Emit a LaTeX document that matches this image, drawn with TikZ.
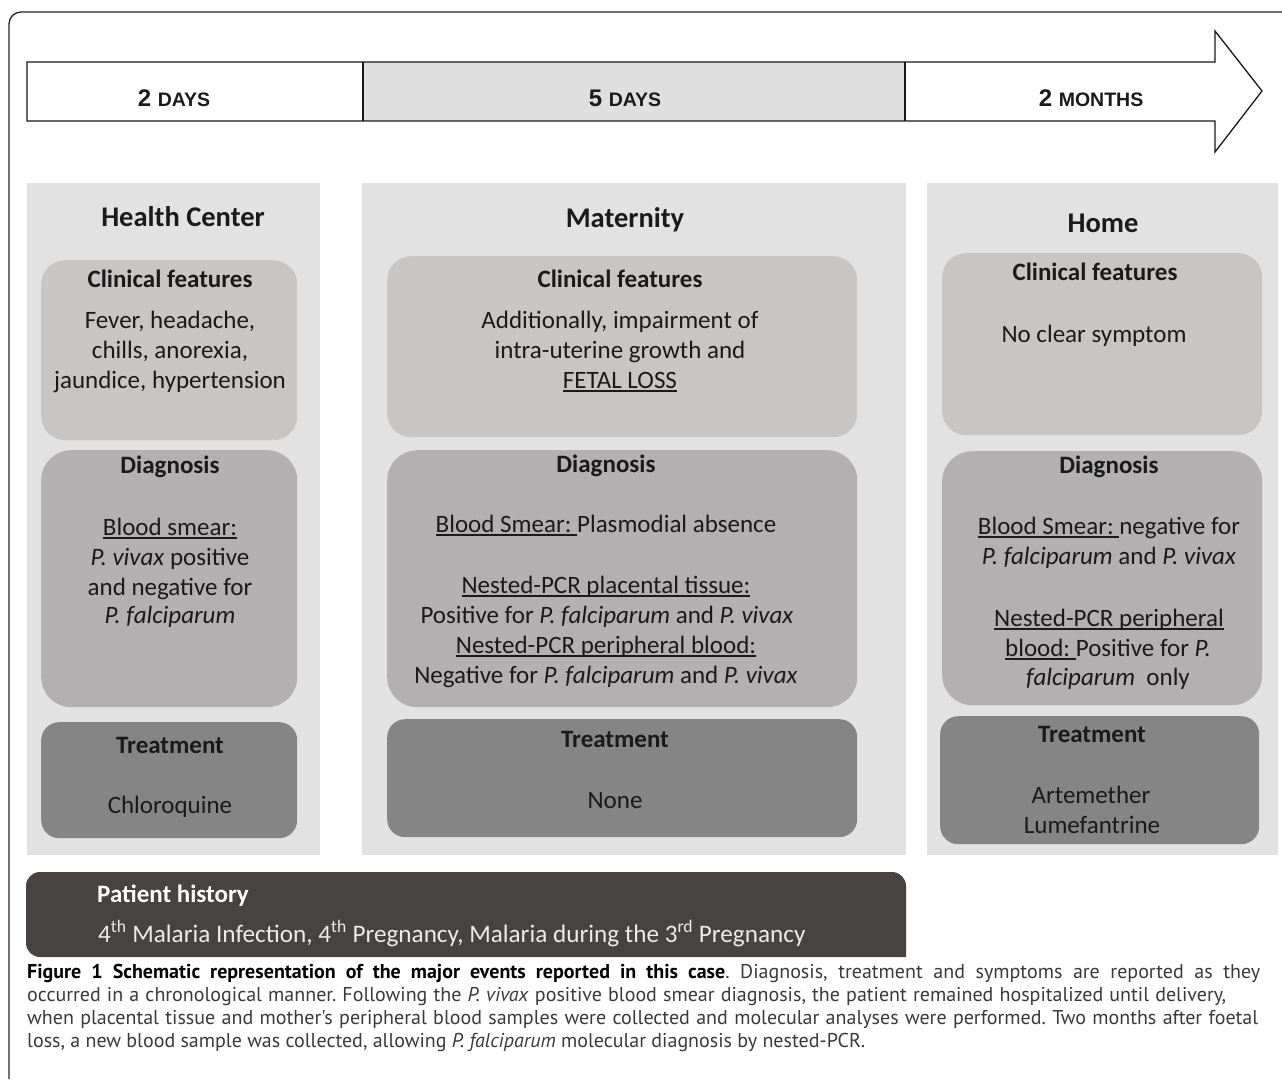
\documentclass[tikz,border=0pt]{standalone}
\usepackage{fontspec}
\setmainfont{Carlito}
\newfontfamily\arialf{Liberation Sans}
\newfontfamily\capfont{PT Sans}
\definecolor{panelbg}{HTML}{E2E2E2}
\definecolor{cfgray}{HTML}{C8C6C5}
\definecolor{dggray}{HTML}{B2B0B0}
\definecolor{trgray}{HTML}{868585}
\definecolor{histgray}{HTML}{474342}
\definecolor{bargray}{HTML}{DFDFDF}
\definecolor{ink}{HTML}{1A1A1A}
\definecolor{capink}{HTML}{3A3A3A}
\frenchspacing
\newcommand\uln[1]{\setbox0\hbox{#1}\rlap{\rule[-3.5pt]{\wd0}{1.3pt}}\box0}
\newcommand\txtline[5][]{\node[tline,#1] (#2) at (#3,#4) {#5};}
\newcommand\boxat[7]{\node[#2, minimum width=#5pt, minimum height=#6pt] (#1) at (#3,#4) {#7};}
\tikzset{
  tline/.style={anchor=base, inner sep=0pt, text=ink, font=\fontsize{25}{30}\selectfont},
  ttl/.style={font=\bfseries\fontsize{28.5}{34}\selectfont},
  hd/.style={font=\bfseries\fontsize{25}{30}\selectfont},
  panelbox/.style={anchor=north west, inner sep=0pt, fill=panelbg, draw=none},
  cfbox/.style={anchor=north west, inner sep=0pt, fill=cfgray, rounded corners=24pt},
  dgbox/.style={anchor=north west, inner sep=0pt, fill=dggray, rounded corners=30pt},
  trbox/.style={anchor=north west, inner sep=0pt, fill=trgray, rounded corners=18pt},
  daylabel/.style={anchor=base, inner sep=0pt, text=ink},
  capline/.style={anchor=base west, inner sep=0pt, text=capink, font=\capfont\fontsize{20}{23}\selectfont},
}
\newcommand\bignum[1]{{\arialf\bfseries\fontsize{24}{24}\selectfont #1\ }}
\newcommand\smallcap[1]{{\arialf\bfseries\fontsize{19.5}{24}\selectfont #1}}
\begin{document}
\begin{tikzpicture}[x=1pt,y=-1pt]
\useasboundingbox (0,0) rectangle (1282,1079);
\fill[white] (0,0) rectangle (1282,1079);
% outer frame
\draw[line width=1.3pt, black!85, rounded corners=12pt] (9,1079) -- (9,12) -- (1282,12);
% timeline arrow
\fill[white] (27,62) -- (1215,62) -- (1215,31) -- (1262,91) -- (1215,152) -- (1215,121) -- (27,121) -- cycle;
\fill[bargray] (363,62) rectangle (905,121);
\draw[line width=1.3pt, black!90, line join=miter] (27,62) -- (1215,62) -- (1215,31) -- (1262,91) -- (1215,152) -- (1215,121) -- (27,121) -- cycle;
\draw[line width=1.3pt, black!90] (363,62) -- (363,121);
\draw[line width=1.3pt, black!90] (905,62) -- (905,121);
\node[daylabel] (d1) at (174,106) {\bignum{2}\smallcap{DAYS}};
\node[daylabel] (d2) at (625,106) {\bignum{5}\smallcap{DAYS}};
\node[daylabel] (d3) at (1091,106) {\bignum{2}\smallcap{MONTHS}};
% panels
\boxat{p1}{panelbox}{27}{183}{293}{672}{}
\boxat{p2}{panelbox}{362}{183}{544}{672}{}
\boxat{p3}{panelbox}{927}{183}{351}{672}{}
% panel 1 boxes
\boxat{cf1}{cfbox}{41}{260}{256}{180}{}
\boxat{dg1}{dgbox}{41}{450}{256}{257}{}
\boxat{tr1}{trbox}{41}{722}{256}{116}{}
% panel 2 boxes
\boxat{cf2}{cfbox}{387}{256}{470}{181}{}
\boxat{dg2}{dgbox}{387}{450}{470}{257}{}
\boxat{tr2}{trbox}{387}{719}{470}{118}{}
% panel 3 boxes
\boxat{cf3}{cfbox}{942}{253}{320}{182}{}
\boxat{dg3}{dgbox}{942}{451}{320}{254}{}
\boxat{tr3}{trbox}{940}{716}{319}{128}{}
% panel 1 text
\txtline[ttl]{h1}{183}{226}{Health Center}
\txtline[hd]{cft1}{170}{287}{Clinical features}
\txtline{cfa1}{170}{328}{Fever, headache,}
\txtline{cfb1}{170}{358}{chills, anorexia,}
\txtline{cfc1}{170}{388}{jaundice, hypertension}
\txtline[hd]{dgt1}{170}{473}{Diagnosis}
\txtline{dga1}{170}{535}{\uln{Blood smear:}}
\txtline{dgb1}{170}{565}{\textit{P. vivax} positive}
\txtline{dgc1}{170}{595}{and negative for}
\txtline{dgd1}{170}{623}{\textit{P. falciparum}}
\txtline[hd]{trt1}{170}{753}{Treatment}
\txtline{tra1}{170}{813}{Chloroquine}
% panel 2 text
\txtline[ttl]{h2}{625}{227}{Maternity}
\txtline[hd]{cft2}{620}{287}{Clinical features}
\txtline{cfa2}{620}{328}{Additionally, impairment of}
\txtline{cfb2}{620}{358}{intra-uterine growth and}
\txtline{cfc2}{620}{388}{\uln{FETAL LOSS}}
\txtline[hd]{dgt2}{606}{472}{Diagnosis}
\txtline{dga2}{606}{532}{\uln{Blood Smear:\ }Plasmodial absence}
\txtline{dgb2}{606}{593}{\uln{Nested-PCR placental tissue:}}
\txtline{dgc2}{607}{623}{Positive for \textit{P. falciparum} and \textit{P. vivax}}
\txtline{dgd2}{606}{653}{\uln{Nested-PCR peripheral blood:}}
\txtline{dge2}{606}{683}{Negative for \textit{P. falciparum} and \textit{P. vivax}}
\txtline[hd]{trt2}{615}{747}{Treatment}
\txtline{tra2}{615}{808}{None}
% panel 3 text
\txtline[ttl]{h3}{1103}{232}{Home}
\txtline[hd]{cft3}{1095}{280}{Clinical features}
\txtline{cfa3}{1094}{342}{No clear symptom}
\txtline[hd]{dgt3}{1109}{473}{Diagnosis}
\txtline{dga3}{1109}{534}{\uln{Blood Smear:\ }negative for}
\txtline{dgb3}{1109}{564}{\textit{P. falciparum} and \textit{P. vivax}}
\txtline{dgc3}{1109}{626}{\uln{Nested-PCR peripheral}}
\txtline{dgd3}{1108}{656}{\uln{blood:\ }Positive for \textit{P.}}
\txtline{dge3}{1108}{685}{\textit{falciparum}\ \ only}
\txtline[hd]{trt3}{1092}{742}{Treatment}
\txtline{tra3}{1091}{803}{Artemether}
\txtline{trb3}{1092}{833}{Lumefantrine}
% patient history
\fill[histgray, rounded corners=14pt] (906,957) -- (906,872) -- (26,872) -- (26,957) [sharp corners] -- cycle;
\node[anchor=base west, inner sep=0pt, text=white, font=\bfseries\fontsize{25}{30}\selectfont] (ph) at (97,902) {Patient history};
\node[anchor=base west, inner sep=0pt, text=white!92!black, font=\fontsize{25.2}{30}\selectfont] (phl) at (98,942) {4\textsuperscript{th} Malaria Infection, 4\textsuperscript{th} Pregnancy, Malaria during the 3\textsuperscript{rd} Pregnancy};
% caption
\node[capline] (c1) at (27,978) {\makebox[1233pt][s]{\textcolor{black}{\bfseries Figure 1 Schematic representation of the major events reported in this case}. Diagnosis, treatment and symptoms are reported as they}};
\node[capline] (c2) at (27,1001) {\makebox[1199pt][s]{occurred in a chronological manner. Following the \textit{P. vivax} positive blood smear diagnosis, the patient remained hospitalized until delivery,}};
\node[capline] (c3) at (27,1024) {\makebox[1231pt][s]{when placental tissue and mother's peripheral blood samples were collected and molecular analyses were performed. Two months after foetal}};
\node[capline] (c4) at (27,1047) {\makebox[838pt][s]{loss, a new blood sample was collected, allowing \textit{P. falciparum} molecular diagnosis by nested-PCR.}};
\end{tikzpicture}
\end{document}
